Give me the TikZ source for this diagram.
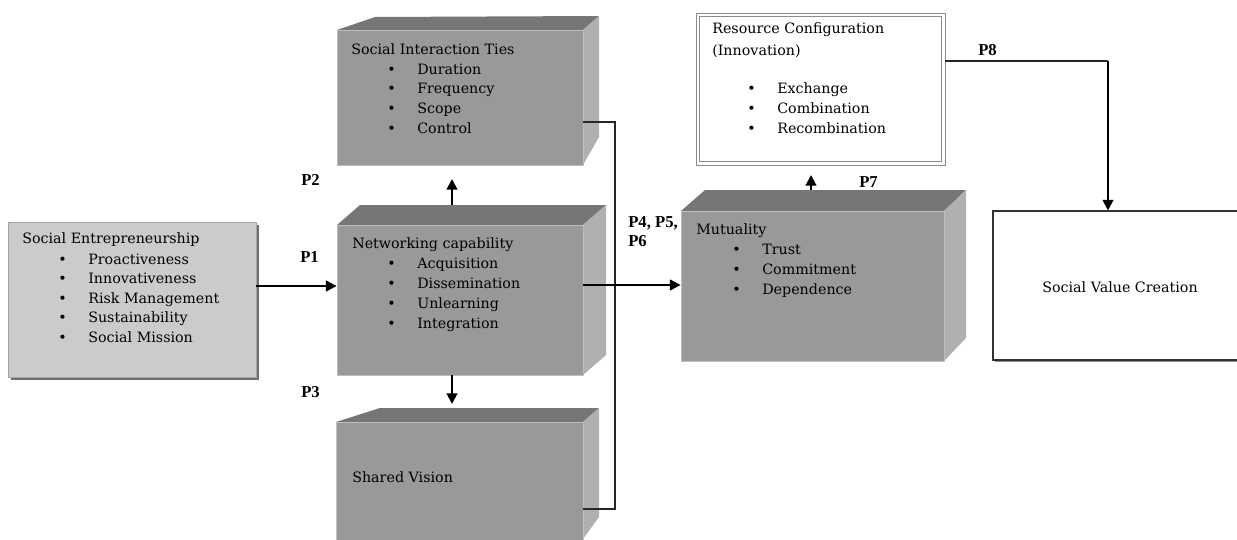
\documentclass[tikz,border=0pt]{standalone}
\usepackage{fontspec}
\setmainfont{DejaVu Serif}
\newfontfamily\labfont{Liberation Serif}
\usetikzlibrary{arrows.meta,fit}
\definecolor{facec}{HTML}{999999}
\definecolor{topc}{HTML}{767676}
\definecolor{sidec}{HTML}{B0B0B0}
\definecolor{edgec}{HTML}{BDBDBD}
\definecolor{sec}{HTML}{CCCACC}
\definecolor{shadc}{HTML}{6E6E6E}
\newcommand\bodysize{\fontsize{10.7}{13}\selectfont}
\begin{document}
\begin{tikzpicture}[x=0.75pt,y=-0.75pt,
  txt/.style={anchor=base west, inner sep=0, font=\bodysize},
  bul/.style={anchor=base west, inner sep=0, font=\bodysize},
  plab/.style={anchor=base west, inner sep=0, font=\labfont\fontsize{12.5}{14}\selectfont\bfseries},
  arr/.style={line width=1.5pt, -{Triangle[length=8pt,width=8pt]}},
  thinline/.style={line width=0.8pt, draw=black!85},
  front/.style={fill=facec, draw=edgec, line width=0.6pt, inner sep=0},
  topface/.style={fill=topc},
  sideface/.style={fill=sidec},
  frameline/.style={draw=black!45, line width=0.6pt},
]
\useasboundingbox (0,0) rectangle (1237,539);

% ---------- Social Entrepreneurship (flat box with shadow)
\fill[shadc] (11,225) rectangle (259,380);
\node[fill=sec, draw=black!35, line width=0.6pt, inner sep=0, fit={(8,222) (256,377)}] (se) {};
\node[txt] (se-title) at (22,243) {Social Entrepreneurship};
\foreach \t [count=\i] in {Proactiveness, Innovativeness, Risk Management, Sustainability, Social Mission} {
  \node[bul] (se-b\i) at (58,{264+19.5*(\i-1)}) {•};
  \node[txt] (se-t\i) at (88,{264+19.5*(\i-1)}) {\t};
}

% ---------- Social Interaction Ties (3D block)
\fill[topface] (337,30) -- (375,17) -- (599,16) -- (583,30) -- cycle;
\fill[sideface] (583,30) -- (599,16) -- (599,137) -- (583,165) -- cycle;
\node[front, fit={(337,30) (583,165)}] (sit) {};
\node[txt] (sit-title) at (351,54) {Social Interaction Ties};
\foreach \t [count=\i] in {Duration, Frequency, Scope, Control} {
  \node[bul] (sit-b\i) at (387,{74+19.7*(\i-1)}) {•};
  \node[txt] (sit-t\i) at (417,{74+19.7*(\i-1)}) {\t};
}

% ---------- Networking capability (3D block)
\fill[topface] (337,225) -- (360,205) -- (606,205) -- (583,225) -- cycle;
\fill[sideface] (583,225) -- (606,205) -- (606,355) -- (583,375) -- cycle;
\node[front, fit={(337,225) (583,375)}] (nc) {};
\node[txt] (nc-title) at (352,248) {Networking capability};
\foreach \t [count=\i] in {Acquisition, Dissemination, Unlearning, Integration} {
  \node[bul] (nc-b\i) at (387,{268+20*(\i-1)}) {•};
  \node[txt] (nc-t\i) at (417,{268+20*(\i-1)}) {\t};
}

% ---------- Shared Vision (3D block)
\fill[topface] (336,422) -- (380,408) -- (599,408) -- (583,422) -- cycle;
\fill[sideface] (583,422) -- (599,408) -- (599,517) -- (583,539) -- cycle;
\node[front, fit={(336,422) (583,540)}] (sv) {};
\node[txt] (sv-title) at (352,482) {Shared Vision};

% ---------- proposition labels
\node[plab] (p1) at (300,262) {P1};
\node[plab] (p2) at (301,185) {P2};
\node[plab] (p3) at (301,397) {P3};
\node[plab] (p456a) at (628,227) {P4, P5,};
\node[plab] (p456b) at (628,246) {P6};
\node[plab] (p7) at (859,187) {P7};
\node[plab] (p8) at (978,55) {P8};

% ---------- Mutuality (3D block)
\fill[topface] (681,211) -- (705,190) -- (966,190) -- (944,211) -- cycle;
\fill[sideface] (944,211) -- (966,190) -- (966,338) -- (944,361) -- cycle;
\node[front, fit={(681,211) (944,361)}] (mu) {};
\node[txt] (mu-title) at (696,234) {Mutuality};
\foreach \t [count=\i] in {Trust, Commitment, Dependence} {
  \node[bul] (mu-b\i) at (732,{254+20*(\i-1)}) {•};
  \node[txt] (mu-t\i) at (762,{254+20*(\i-1)}) {\t};
}

% ---------- Resource Configuration (double frame)
\node[fill=white, frameline, inner sep=0, fit={(696,13) (945,165)}] (rc) {};
\draw[frameline] (699.5,16.5) rectangle (941.5,161.5);
\node[txt] (rc-title) at (712,33) {Resource Configuration};
\node[txt] (rc-sub) at (712,55) {(Innovation)};
\foreach \t [count=\i] in {Exchange, Combination, Recombination} {
  \node[bul] (rc-b\i) at (747,{93+20*(\i-1)}) {•};
  \node[txt] (rc-t\i) at (777,{93+20*(\i-1)}) {\t};
}

% ---------- Social Value Creation
\fill[black!45] (995,213) rectangle (1237,362);
\node[fill=white, draw=black!80, line width=0.8pt, inner sep=0, fit={(993,211) (1240,360)}] (svc) {};
\node[inner sep=0, font=\bodysize, anchor=base] (svc-t) at (1120,292) {Social Value Creation};

% ---------- connectors
\coordinate (yp1) at (0,286);
\coordinate (yp4) at (0,285);
\coordinate (ysit) at (0,122);
\coordinate (ysv) at (0,509);
\coordinate (ncup) at (452,205);
\coordinate (sitlow) at (452,179);
\coordinate (ncdown) at (452,375);
\coordinate (svup) at (452,404);
\coordinate (bx) at (615,0);
\coordinate (muup) at (811,190);
\coordinate (rclow) at (811,175);
\coordinate (yp8) at (0,61);
\coordinate (xp8) at (1108,0);

\draw[arr] (se.east |- yp1) -- (nc.west |- yp1);
\draw[arr] (ncup) -- (sitlow);
\draw[arr] (ncdown) -- (svup);
\draw[thinline] (sit.east |- ysit) -- (bx |- ysit) -- (bx |- ysv) -- (sv.east |- ysv);
\draw[arr] (nc.east |- yp4) -- (mu.west |- yp4);
\draw[arr] (muup) -- (rclow);
\draw[thinline] (rc.east |- yp8) -- (xp8 |- yp8);
\draw[arr] (xp8 |- yp8) -- (xp8 |- svc.north);
\end{tikzpicture}
\end{document}
